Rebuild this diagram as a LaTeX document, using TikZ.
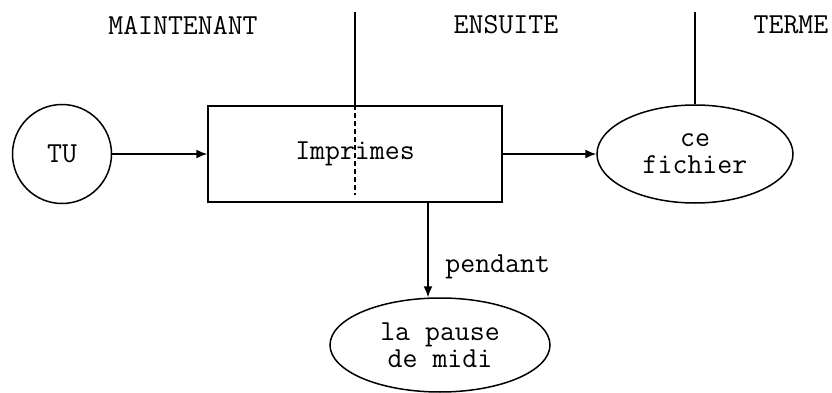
\documentclass[tikz,border=0pt]{standalone}
\usepackage{tikz}
\usetikzlibrary{shapes.geometric, arrows, arrows.meta, positioning}
\tikzset{
  txt/.style={
    font=\fontsize{14.5}{13.5}\selectfont\ttfamily
  },
  period/.style={
    txt,
    inner sep=0pt
  },
  agent/.style={
    circle,
    draw=black,
    minimum size=49.5pt,
    inner sep=0pt,
    txt
  },
  action/.style={
    rectangle,
    draw=black,
    minimum width=147pt,
    minimum height=48pt,
    txt
  },
  thing/.style={
    ellipse,
    draw=black,
    inner sep=0pt,
    align=center,
    txt
  },
  arrow/.style={
    -{Latex[length=5.5pt, width=4.5pt]}
  },
  hidden/.style={
    dashed,
    dash pattern=on 2.5pt off 1.5pt
  }
}

\begin{document}
\begin{tikzpicture}[x=0.5pt, y=0.5pt, line width=0.75pt]
  \useasboundingbox (0,0) rectangle (832,392);

  % Periods
  \node (now) [period] at (183,367) {MAINTENANT};
  \node (next) [period] at (506,367) {ENSUITE};
  \node (term) [period] at (791,367) {TERME};

  % Nodes
  \node (tu) [agent] at (62,238) {TU};
  \node (print) [action] at (355,238) {Imprimes};
  \node (file) [thing, minimum width=98pt, minimum height=49pt] at (695,238) {ce\\fichier};
  \node (lunch) [thing, minimum width=110pt, minimum height=47pt] at (440,47) {la pause\\de midi};

  % Dividers
  \coordinate (cut1) at (print.north |- 0,380);
  \coordinate (cut2) at (file.north |- 0,380);
  \draw (print.north) -- (cut1);
  \draw[hidden] (print.north) -- ([yshift=4pt]print.south);
  \draw (file.north) -- (cut2);

  % Arrows
  \draw[arrow] (tu) -- (print);
  \draw[arrow] (print) -- (file);
  \draw[arrow] ([xshift=36.5pt]print.south) -- node[right, pos=0.68, xshift=5pt, txt] (when) {pendant} ([xshift=36.5pt]print.south |- lunch.north);

\end{tikzpicture}
\end{document}
